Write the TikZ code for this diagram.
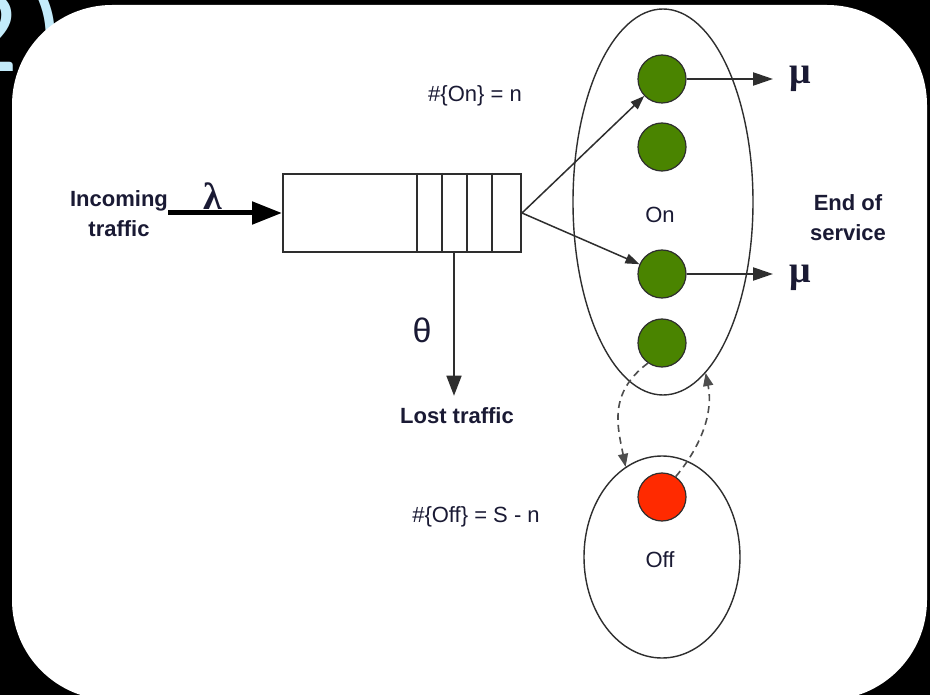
\documentclass[tikz,border=0pt]{standalone}
\usepackage{fontspec}
\setmainfont{Liberation Sans}
\newfontfamily\grserif{Liberation Serif}
\newfontfamily\titlefont{Carlito}
\usetikzlibrary{arrows.meta,calc,shapes.geometric}
\definecolor{txt}{HTML}{1A1A34}
\definecolor{ln}{HTML}{2E2E2E}
\definecolor{srvgreen}{HTML}{4A8400}
\definecolor{srvred}{HTML}{FF2A00}
\definecolor{ttl}{HTML}{C3EBFA}
\begin{document}
\begin{tikzpicture}[x=1pt,y=-1pt,
  lbl/.style={text=txt, inner sep=0pt, font=\fontsize{22}{29}\selectfont},
  blbl/.style={text=txt, inner sep=0pt, align=center, font=\bfseries\fontsize{22}{30}\selectfont},
  greek/.style={text=txt, inner sep=0pt, font=\grserif\bfseries\fontsize{38}{38}\selectfont},
  srv/.style={circle, draw=ln, line width=1.2pt, minimum size=48pt, inner sep=0pt, fill=srvgreen},
  grp/.style={ellipse, draw=ln, line width=1.4pt, inner sep=0pt},
  thinarr/.style={draw=ln, line width=1.5pt, -{Triangle[length=14pt,width=10pt]}},
  lostarr/.style={draw=ln, line width=1.6pt, -{Triangle[length=20pt,width=15pt]}},
  muarr/.style={draw=ln, line width=2.2pt, -{Triangle[length=20pt,width=13pt]}},
  inarr/.style={draw=black, line width=5pt, -{Triangle[length=30pt,width=22pt]}},
  dasharr/.style={draw=ln!85, line width=1.6pt, dash pattern=on 7pt off 5pt, -{Triangle[length=13pt,width=10pt]}}
]
\useasboundingbox (0,0) rectangle (930,695);
\clip (0,0) rectangle (930,695);
\fill[black] (0,0) rectangle (930,695);
\node[anchor=base west, text=ttl, inner sep=0pt, font=\titlefont\fontsize{120}{120}\selectfont] (title) at (-43,72) {2\kern10pt)};
\fill[white, rounded corners=100pt] (12,5) rectangle (927,700);

% groups
\node[grp, minimum width=180pt, minimum height=386pt] (on) at (663,202) {};
\node[grp, minimum width=156pt, minimum height=202pt] (off) at (662,557) {};

% queue
\node[draw=ln, line width=2pt, minimum width=238pt, minimum height=78pt, inner sep=0pt] (queue) at (402,213) {};
\foreach \dx in {135,160,185,210}
  \draw[ln, line width=2pt] ($(queue.north west)+(\dx,0)$) -- ($(queue.south west)+(\dx,0)$);

% servers
\node[srv] (c1) at (662,79) {};
\node[srv] (c2) at (662,147) {};
\node[srv] (c3) at (662,274) {};
\node[srv] (c4) at (662,343) {};
\node[srv, fill=srvred] (cr) at (662,497) {};

% labels
\node[blbl] (inc) at (119,214) {Incoming\\traffic};
\node[greek] (lam) at (213,196) {λ};
\node[blbl] (lost) at (457,416) {Lost traffic};
\node[text=txt, inner sep=0pt, font=\fontsize{34}{34}\selectfont] (theta) at (422,330) {θ};
\node[lbl] (onn) at (475,96) {\#\{On\} = n};
\node[lbl] (offn) at (476,517) {\#\{Off\} = S - n};
\node[lbl] (onlbl) at (660,215) {On};
\node[lbl] (offlbl) at (660,560) {Off};
\node[blbl] (eos) at (848,218) {End of\\service};
\node[greek] (mu1) at (800,79) {μ};
\node[greek] (mu2) at (800,278) {μ};

% connectors
\draw[inarr] (inc.east |- queue.west) -- (queue.west);
\draw[thinarr] (queue.east) -- (c1);
\draw[thinarr] (queue.east) -- (c3);
\coordinate (qdrop) at ($(queue.south east)+(-68,0)$);
\draw[lostarr, shorten >=12pt] (qdrop) -- (qdrop |- lost.north);
\draw[muarr, shorten >=16pt] (c1) -- (c1 -| mu1.west);
\draw[muarr, shorten >=16pt] (c3) -- (c3 -| mu2.west);
\draw[dasharr] (c4.235) .. controls +(-40,30) and +(-8,-40) .. (off.112);
\draw[dasharr] (cr.56) .. controls +(25,-30) and +(8,40) .. (on.284);
\end{tikzpicture}
\end{document}
